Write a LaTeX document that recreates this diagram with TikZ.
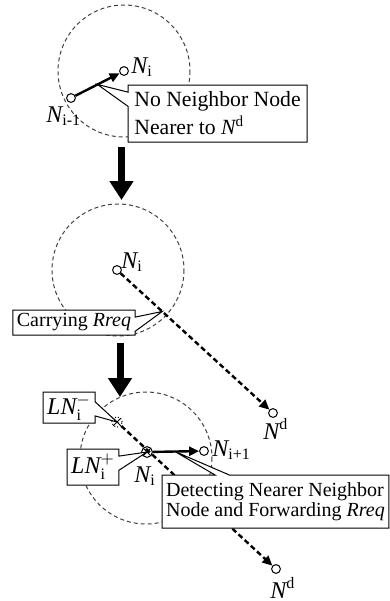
\documentclass[tikz,border=0pt]{standalone}
\usepackage{amsmath}
\usepackage{fontspec}
\setmainfont{Liberation Serif}
\usetikzlibrary{arrows.meta,shapes.callouts,calc}

\begin{document}
\begin{tikzpicture}[x=0.5pt,y=-0.5pt,
    radio/.style={draw=black!75,line width=0.5pt,dash pattern=on 2pt off 1.5pt},
    sensor/.style={circle,draw,line width=0.5pt,fill=white,inner sep=0pt,minimum size=4.4pt},
    xsensor/.style={sensor,minimum size=5.4pt,path picture={
        \draw[solid,line width=0.5pt] (path picture bounding box.center)
          +(-4pt,-4pt) -- +(4pt,4pt) +(-4pt,4pt) -- +(4pt,-4pt);}},
    hop/.style={line width=1.2pt,-{Triangle[length=5pt,width=4.5pt]}},
    route/.style={hop,dash pattern=on 2.6pt off 1.6pt},
    tag/.style={inner sep=0pt,anchor=base west,font=\fontsize{12}{14}\selectfont},
    note/.style={rectangle callout,draw,line width=0.5pt,fill=white,align=left,
        inner xsep=2pt,inner ysep=1pt,font=\fontsize{10}{10}\selectfont},
    stage/.style={line width=3.5pt,-{Triangle[length=9.5pt,width=11.5pt]}}]
  \useasboundingbox (0,0) rectangle (390,601);

  % Stage 1: N_i has no neighbour closer to the destination
  \draw[radio] (124,71) circle (66);
  \node[sensor] (ti) at (124,71) {};
  \node[sensor] (tprev) at (71,98) {};
  \node[tag] (tilbl) at (131,73) {$\textit{N}_{\text{i}}$};
  \node[tag] (tprevlbl) at (46,122) {$\textit{N}_{\text{i-1}}$};
  \draw[hop] (tprev) -- (ti);
  \coordinate (tp) at ($(tprev)!0.5!(ti)$);
  \node[note,font=\fontsize{10.85}{14}\selectfont,
        minimum width=89.5pt,minimum height=28.5pt,
        callout absolute pointer={(tp)}] (tnote) at (217.5,113.5)
    {No Neighbor Node\\Nearer to $\textit{N}^{\text{d}}$};

  \coordinate (s1) at (121.5,147);
  \coordinate (e1) at (121.5,200);
  \draw[stage] (s1) -- (e1);

  % Stage 2: N_i keeps the Rreq and heads for N^d
  \draw[radio] (118,270) circle (66);
  \node[sensor] (mi) at (117,270) {};
  \node[sensor] (md) at (273,413) {};
  \node[tag] (milbl) at (121,268) {$\textit{N}_{\text{i}}$};
  \node[tag] (mdlbl) at (263,439) {$\textit{N}^{\text{d}}$};
  \draw[route] (mi) -- (md);
  \coordinate (mp) at ($(mi)!0.29!(md)$);
  \node[note,minimum width=59pt,minimum height=12.5pt,
        callout absolute pointer={(mp)}] (mnote) at (74,322.5)
    {Carrying \textit{Rreq}};

  \coordinate (s2) at (120,343);
  \coordinate (e2) at (120,397);
  \draw[stage] (s2) -- (e2);

  % Stage 3: a nearer neighbour N_{i+1} is found and Rreq is forwarded
  \draw[radio] (146,458) circle (66);
  \node[xsensor,draw=none,fill=none] (lnm) at (117,422) {};
  \draw[densely dotted,line width=0.5pt] (lnm) circle (2.6pt);
  \node[xsensor] (bi) at (147,452) {};
  \node[sensor] (bn) at (204,451) {};
  \node[sensor] (bd) at (276,569) {};
  \node[tag] (bilbl) at (134,482) {$\textit{N}_{\text{i}}$};
  \node[tag] (bnlbl) at (212,456) {$\textit{N}_{\text{i+1}}$};
  \node[tag] (bdlbl) at (270,598) {$\textit{N}^{\text{d}}$};
  \draw[route] (lnm) -- (bd);
  \draw[hop] (bi) -- (bn);
  \coordinate (bp) at ($(bi)!0.49!(bn)$);
  \node[note,font=\fontsize{12}{14}\selectfont,minimum width=26pt,minimum height=15.5pt,
        callout absolute pointer={(lnm.center)}] (lnmnote) at (69,407.5)
    {$\textit{LN}_{\text{i}}^{-}$};
  \node[note,font=\fontsize{12}{14}\selectfont,minimum width=25pt,minimum height=18pt,
        callout absolute pointer={(bi.center)}] (lnpnote) at (93,467)
    {$\textit{LN}_{\text{i}}^{+}$};
  \node[note,minimum width=112.5pt,minimum height=26.5pt,
        callout absolute pointer={(bp)}] (bnote) at (275.5,501.5)
    {Detecting Nearer Neighbor\\Node and Forwarding \textit{Rreq}};
\end{tikzpicture}
\end{document}
